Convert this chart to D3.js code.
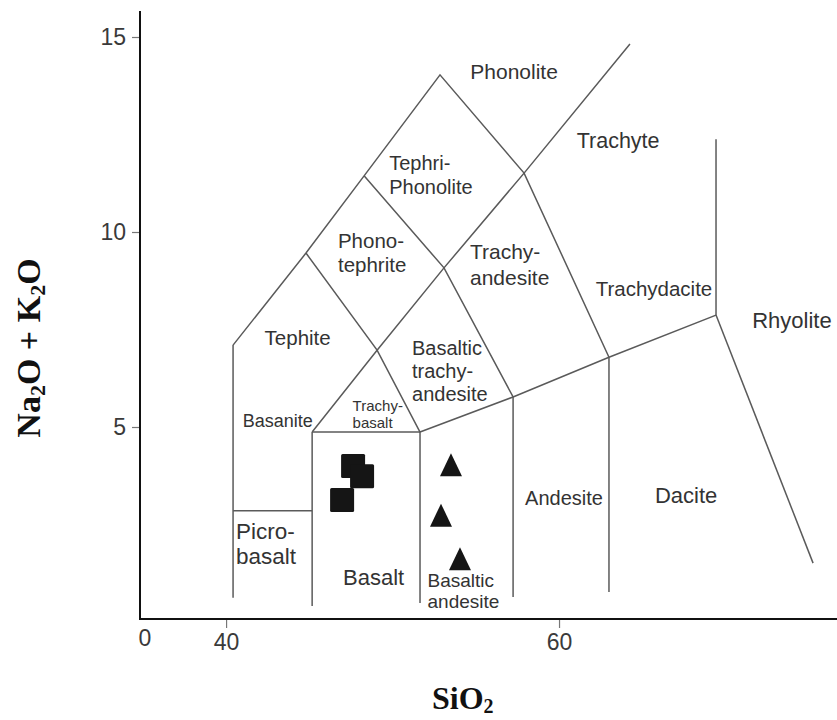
<!DOCTYPE html>
<html>
<head>
<meta charset="utf-8">
<script src="https://cdn.jsdelivr.net/npm/d3@7"></script>
<style>
  html, body { margin: 0; padding: 0; background: #fff; }
  svg { display: block; }
</style>
</head>
<body>
<svg id="chart" width="837" height="720"></svg>
<script>
// TAS (total alkali vs silica) classification diagram

// axis ticks
const xTicks = [40, 60];
const yTicks = [5, 10, 15];

// field boundaries, [SiO2, Na2O+K2O] polylines
const boundaryLines = [
  [[40.42, 0.62], [40.42, 7.10]],
  [[40.42, 2.85], [45.17, 2.85]],
  [[45.17, 0.41], [45.17, 4.87]],
  [[45.17, 4.87], [51.65, 4.87]],
  [[51.65, 0.49], [51.65, 4.87]],
  [[57.24, 0.64], [57.24, 5.77]],
  [[63.00, 0.77], [63.00, 6.79]],
  [[51.65, 4.87], [57.24, 5.77], [63.00, 6.79], [69.43, 7.87]],
  [[69.43, 7.87], [75.26, 1.51]],
  [[69.43, 7.87], [69.43, 12.38]],
  [[40.42, 7.10], [44.80, 9.46], [48.29, 11.44], [52.85, 14.03], [57.90, 11.51], [63.00, 6.79]],
  [[45.17, 4.87], [49.07, 6.97], [53.09, 9.08], [57.90, 11.51], [64.26, 14.82]],
  [[44.80, 9.46], [49.07, 6.97], [51.65, 4.87]],
  [[48.29, 11.44], [53.09, 9.08], [57.24, 5.77]]
];

// field names: lines, anchor point [SiO2, Na2O+K2O], font size, line gap
const fieldNames = [
  { lines: ["Phonolite"], at: [57.3, 13.92], size: 21, gap: 0, anchor: "middle" },
  { lines: ["Trachyte"], at: [63.55, 12.15], size: 21.5, gap: 0, anchor: "middle" },
  { lines: ["Tephri-", "Phonolite"], at: [49.8, 11.59], size: 20, gap: 24, anchor: "start" },
  { lines: ["Phono-", "tephrite"], at: [46.72, 9.6], size: 20.5, gap: 24, anchor: "start" },
  { lines: ["Trachy-", "andesite"], at: [54.65, 9.3], size: 21, gap: 26, anchor: "start" },
  { lines: ["Tephite"], at: [44.3, 7.1], size: 20.5, gap: 0, anchor: "middle" },
  { lines: ["Basanite"], at: [41.0, 5.0], size: 18, gap: 0, anchor: "start" },
  { lines: ["Trachy-", "basalt"], at: [47.6, 5.4], size: 15, gap: 17, anchor: "start" },
  { lines: ["Basaltic", "trachy-", "andesite"], at: [51.17, 6.84], size: 20, gap: 23, anchor: "start" },
  { lines: ["Trachydacite"], at: [62.2, 8.35], size: 20.5, gap: 0, anchor: "start" },
  { lines: ["Rhyolite"], at: [71.6, 7.55], size: 22, gap: 0, anchor: "start" },
  { lines: ["Picro-", "basalt"], at: [40.6, 2.12], size: 22.5, gap: 25, anchor: "start" },
  { lines: ["Basalt"], at: [48.86, 0.95], size: 22, gap: 0, anchor: "middle" },
  { lines: ["Basaltic", "andesite"], at: [52.1, 0.90], size: 19, gap: 21, anchor: "start" },
  { lines: ["Andesite"], at: [60.3, 3.0], size: 20, gap: 0, anchor: "middle" },
  { lines: ["Dacite"], at: [67.63, 3.05], size: 22, gap: 0, anchor: "middle" }
];

// sample analyses
const basaltSiO2 = [47.63, 48.17, 46.97];
const basaltAlkali = [4.00, 3.74, 3.13];
const andesiteSiO2 = [53.51, 52.91, 54.05];
const andesiteAlkali = [4.03, 2.74, 1.62];

const svg = d3.select("#chart");
const plotLeft = 140, plotBottom = 619, plotTop = 11, plotRight = 837;

const x = d3.scaleLinear().domain([34.83, 40 + (plotRight - 226) / 16.65]).range([plotLeft, plotRight]);
const y = d3.scaleLinear().domain([0.077, 0.077 + (plotBottom - plotTop) / 39]).range([plotBottom, plotTop]);

// boundaries
const line = d3.line().x(d => x(d[0])).y(d => y(d[1]));
svg.append("g")
  .selectAll("path")
  .data(boundaryLines)
  .join("path")
  .attr("d", line)
  .attr("fill", "none")
  .attr("stroke", "#5a5a5a")
  .attr("stroke-width", 1.5)
  .attr("stroke-linejoin", "miter");

// field labels
const labels = svg.append("g")
  .attr("font-family", "Liberation Sans, Arial, sans-serif")
  .attr("fill", "#333");
fieldNames.forEach(f => {
  const t = labels.append("text")
    .attr("x", x(f.at[0]))
    .attr("y", y(f.at[1]))
    .attr("font-size", f.size)
    .attr("text-anchor", f.anchor);
  f.lines.forEach((s, i) => {
    t.append("tspan")
      .attr("x", x(f.at[0]))
      .attr("dy", i === 0 ? 0 : f.gap)
      .text(s);
  });
});

// samples: squares
const sq = 24;
svg.append("g")
  .selectAll("rect")
  .data(basaltSiO2.map((v, i) => [v, basaltAlkali[i]]))
  .join("rect")
  .attr("x", d => x(d[0]) - sq / 2)
  .attr("y", d => y(d[1]) - sq / 2)
  .attr("width", sq)
  .attr("height", sq)
  .attr("rx", 1.5)
  .attr("fill", "#151515");

// samples: triangles
const tw = 11, th = 11.5;
svg.append("g")
  .selectAll("path")
  .data(andesiteSiO2.map((v, i) => [v, andesiteAlkali[i]]))
  .join("path")
  .attr("d", d => {
    const cx = x(d[0]), cy = y(d[1]);
    return `M${cx},${cy - th}L${cx + tw},${cy + th}L${cx - tw},${cy + th}Z`;
  })
  .attr("fill", "#151515");

// y axis
const yAxis = svg.append("g")
  .attr("transform", `translate(${plotLeft},0)`)
  .call(d3.axisLeft(y).tickValues(yTicks).tickSize(8).tickPadding(6).tickFormat(d3.format("d")));
yAxis.select(".domain").remove();
yAxis.selectAll(".tick line").attr("stroke", "#777").attr("stroke-width", 1.2);
yAxis.selectAll(".tick text")
  .attr("font-family", "Liberation Sans, Arial, sans-serif")
  .attr("font-size", 23)
  .attr("fill", "#3a3a3a");

// x axis
const xAxis = svg.append("g")
  .attr("transform", `translate(0,${plotBottom})`)
  .call(d3.axisBottom(x).tickValues(xTicks).tickSize(9).tickPadding(6).tickFormat(d3.format("d")));
xAxis.select(".domain").remove();
xAxis.selectAll(".tick line").attr("stroke", "#777").attr("stroke-width", 1.2);
xAxis.selectAll(".tick text")
  .attr("font-family", "Liberation Sans, Arial, sans-serif")
  .attr("font-size", 23)
  .attr("fill", "#3a3a3a");

// origin label
svg.append("text")
  .attr("x", plotLeft + 5)
  .attr("y", plotBottom + 27)
  .attr("text-anchor", "middle")
  .attr("font-family", "Liberation Sans, Arial, sans-serif")
  .attr("font-size", 23)
  .attr("fill", "#3a3a3a")
  .text("0");

// axis lines
svg.append("line")
  .attr("x1", plotLeft).attr("y1", plotTop).attr("x2", plotLeft).attr("y2", plotBottom + 1)
  .attr("stroke", "#111").attr("stroke-width", 2);
svg.append("line")
  .attr("x1", plotLeft - 1).attr("y1", plotBottom).attr("x2", plotRight).attr("y2", plotBottom)
  .attr("stroke", "#111").attr("stroke-width", 2);

// axis titles
const xt = svg.append("text")
  .attr("x", 432)
  .attr("y", 709)
  .attr("font-family", "Liberation Serif, Times New Roman, serif")
  .attr("font-weight", "bold")
  .attr("font-size", 32)
  .attr("fill", "#111");
xt.append("tspan").text("SiO");
xt.append("tspan").attr("font-size", 20).attr("dy", 4).text("2");

const yt = svg.append("text")
  .attr("transform", "translate(40,348) rotate(-90)")
  .attr("text-anchor", "middle")
  .attr("font-family", "Liberation Serif, Times New Roman, serif")
  .attr("font-weight", "bold")
  .attr("font-size", 34)
  .attr("fill", "#111");
yt.append("tspan").text("Na");
yt.append("tspan").attr("font-size", 22).attr("dy", 5).text("2");
yt.append("tspan").attr("dy", -5).text("O + K");
yt.append("tspan").attr("font-size", 22).attr("dy", 5).text("2");
yt.append("tspan").attr("dy", -5).text("O");
</script>
</body>
</html>
